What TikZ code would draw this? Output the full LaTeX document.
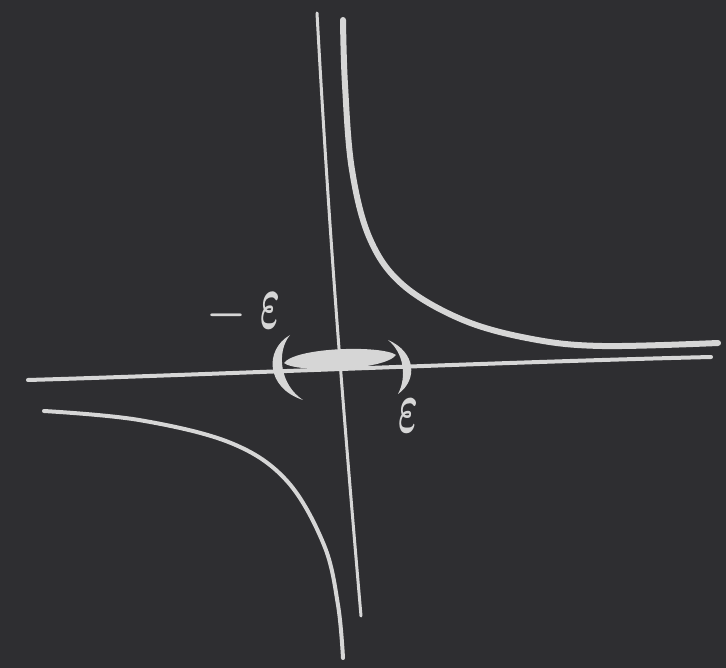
\documentclass[tikz,border=0pt]{standalone}
\begin{document}
\begin{tikzpicture}[x=1pt,y=-1pt,
  chalk/.style={draw=chalkc,line cap=round,line join=round},
  chalktext/.style={text=chalkc,inner sep=0pt,font=\Huge\boldmath}]
\definecolor{board}{HTML}{2E2E31}
\definecolor{chalkc}{HTML}{D6D6D6}
\fill[board] (0,0) rectangle (726,668);
\useasboundingbox (0,0) rectangle (726,668);
% vertical axis
\draw[chalk,line width=3pt] (317,13) .. controls (330,250) and (345,430) .. (361,616);
% horizontal axis
\draw[chalk,line width=4pt] (28,380) .. controls (200,375) and (500,362) .. (711,357);
% upper-right branch
\draw[chalk,line width=6pt] plot[smooth,tension=0.6] coordinates
  {(343,20) (345,85) (352,170) (370,239) (403,285) (463,320) (532,339) (602,346) (718,343)};
% lower-left branch
\draw[chalk,line width=4pt] plot[smooth,tension=0.6] coordinates
  {(44,411) (139,420) (231,443) (287,481) (324,545) (338,605) (343,658)};
% thick interval segment
\fill[chalkc] (284,363) .. controls (296,347) and (382,345) .. (396,355)
  .. controls (384,371) and (296,373) .. (284,363) -- cycle;
% left bracket
\fill[chalkc] (290,335) .. controls (264,350) and (266,388) .. (303,400)
  .. controls (280,385) and (276,352) .. (290,335) -- cycle;
% right bracket
\fill[chalkc] (388,340) .. controls (416,352) and (418,380) .. (398,394)
  .. controls (407,377) and (404,353) .. (388,340) -- cycle;
% labels
\node[chalktext,scale=1.8] (minus) at (227,315) {$-$};
\node[chalktext,xscale=1.5,yscale=3.2] (epsl) at (270,311) {$\varepsilon$};
\node[chalktext,xscale=1.5,yscale=3.0] (epsr) at (408,416) {$\varepsilon$};
\end{tikzpicture}
\end{document}
